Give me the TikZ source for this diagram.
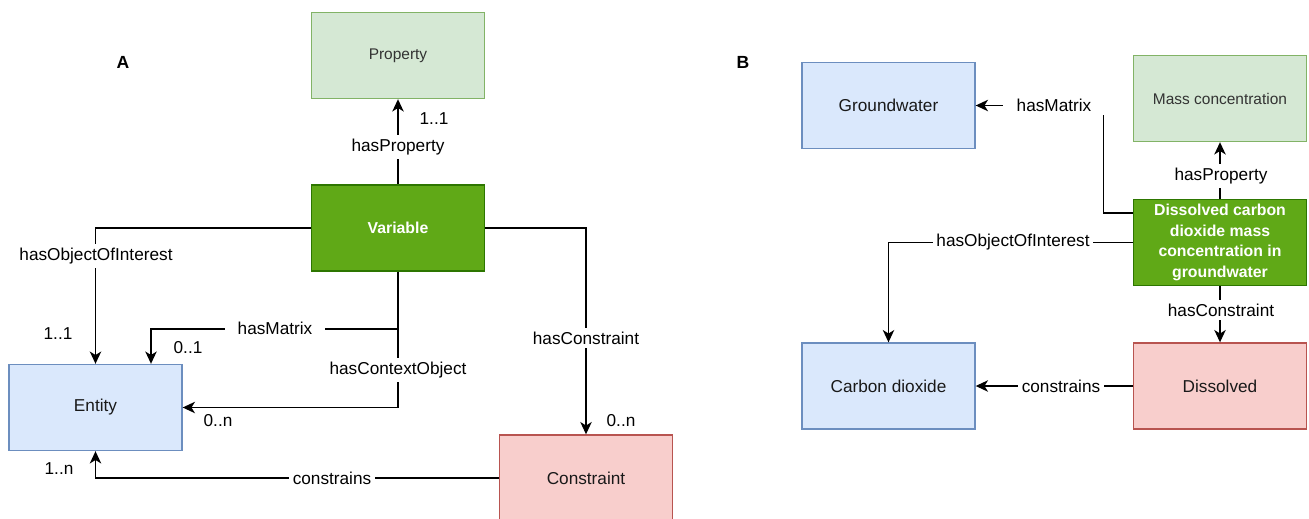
\documentclass[tikz,border=0pt]{standalone}
\usepackage{fontspec}
\setmainfont{Liberation Sans}
\usetikzlibrary{arrows.meta}

\begin{document}
\begin{tikzpicture}[x=0.02cm, y=-0.02cm,
    box/.style={draw, line width=0.8pt, minimum width=3.46cm, minimum height=1.72cm,
        inner sep=2pt, align=center, font=\fontsize{9.8}{12}\selectfont, text=black!90},
    entitybox/.style={box, fill=blueF, draw=blueD},
    propbox/.style={box, fill=greenF, draw=greenD, font=\fontsize{8.8}{11}\selectfont, text=black!80},
    varbox/.style={box, fill=varF, draw=varD, text=white, font=\fontsize{9}{11.6}\selectfont\bfseries},
    consbox/.style={box, fill=redF, draw=redD},
    rel/.style={draw, line width=0.75pt, -{Stealth[length=7pt,width=6.5pt,inset=2pt]}},
    lbl/.style={fill=white, inner sep=2pt, font=\fontsize{9.8}{12}\selectfont},
    card/.style={inner sep=0pt, font=\fontsize{9.8}{12}\selectfont},
    panel/.style={font=\fontsize{10}{12}\selectfont\bfseries}]

        % Màu kiểu draw.io
        \definecolor{blueF}{HTML}{DAE8FC}
        \definecolor{blueD}{HTML}{6C8EBF}
        \definecolor{greenF}{HTML}{D5E8D4}
        \definecolor{greenD}{HTML}{82B366}
        \definecolor{varF}{HTML}{60A917}
        \definecolor{varD}{HTML}{2D7600}
        \definecolor{redF}{HTML}{F8CECC}
        \definecolor{redD}{HTML}{B85450}

        % Khung hình (pixel)
        \useasboundingbox (0,0) rectangle (1309,518);

        % ---------- Panel A ----------
        \node[panel] (labA) at (123,62) {A};

        \node[propbox] (property) at (398,55.5) {Property};
        \node[varbox] (variable) at (398,228) {Variable};
        \node[entitybox] (entity) at (95.5,407.5) {Entity};
        \node[consbox] (constraint) at (586,478) {Constraint};

        \coordinate (mtxbend) at (151,329);

        \draw[rel] (variable) -- (property);
        \draw[rel] (variable.west) -| (entity.north);
        \draw[rel] (variable.south) |- (mtxbend) -- (mtxbend |- entity.north);
        \draw[rel] (variable.south) |- (entity.east);
        \draw[rel] (variable.east) -| (constraint.north);
        \draw[rel] (constraint.west) -| (entity.south);

        % Nhãn quan hệ A
        \node[lbl] (pA) at (398,147) {hasProperty};
        \node[lbl] (ooiA) at (96,256) {hasObjectOfInterest};
        \node[lbl, inner xsep=7pt] (mtxA) at (275,328) {hasMatrix};
        \node[lbl] (ctxA) at (398,370) {hasContextObject};
        \node[lbl] (conA) at (586,338) {hasConstraint};
        \node[lbl] (csA) at (332,478) {constrains};

        % Bội số
        \node[card] (c1) at (434,119) {1..1};
        \node[card] (c2) at (58,334) {1..1};
        \node[card] (c3) at (188,348) {0..1};
        \node[card] (c4) at (218,421) {0..n};
        \node[card] (c5) at (621,421) {0..n};
        \node[card] (c6) at (59,469) {1..n};

        % ---------- Panel B ----------
        \node[panel] (labB) at (743,62) {B};

        \node[entitybox] (groundwater) at (888.5,105.5) {Groundwater};
        \node[propbox] (masscon) at (1220,98.5) {Mass concentration};
        \node[varbox] (co2var) at (1220,242.5) {Dissolved carbon\\dioxide mass\\concentration in\\groundwater};
        \node[entitybox] (carbon) at (888.5,386) {Carbon dioxide};
        \node[consbox] (dissolved) at (1220,386) {Dissolved};

        \draw[rel] ([yshift=0.59cm]co2var.west) -- ++(-29,0) |- (groundwater.east);
        \draw[rel] (co2var) -- (masscon);
        \draw[rel] (co2var.west) -| (carbon.north);
        \draw[rel] (co2var) -- (dissolved);
        \draw[rel] (dissolved) -- (carbon);

        % Nhãn quan hệ B
        \node[lbl, inner xsep=8pt] (mtxB) at (1054,105.5) {hasMatrix};
        \node[lbl] (pB) at (1221,176) {hasProperty};
        \node[lbl] (ooiB) at (1013,242.5) {hasObjectOfInterest};
        \node[lbl] (conB) at (1221,310) {hasConstraint};
        \node[lbl] (csB) at (1061,386) {constrains};
    \end{tikzpicture}
\end{document}
